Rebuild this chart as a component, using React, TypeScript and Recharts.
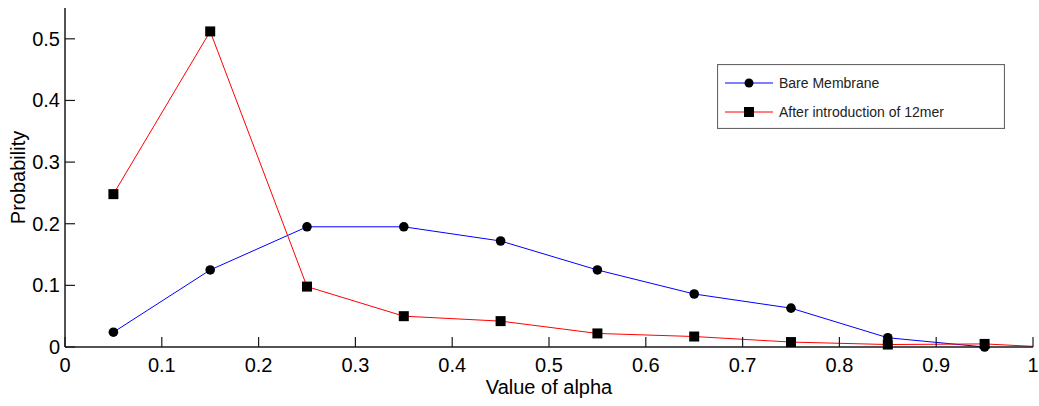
import React from "react";
import { Legend, Line, LineChart, XAxis, YAxis } from "recharts";

const alpha = [0.05, 0.15, 0.25, 0.35, 0.45, 0.55, 0.65, 0.75, 0.85, 0.95, 1.0];
const bare = [0.024, 0.125, 0.195, 0.195, 0.172, 0.125, 0.086, 0.063, 0.015, 0.0, null];
const after12mer = [0.248, 0.512, 0.098, 0.05, 0.042, 0.022, 0.017, 0.008, 0.004, 0.005, 0.001];
const xTicks = [0, 0.1, 0.2, 0.3, 0.4, 0.5, 0.6, 0.7, 0.8, 0.9, 1];
const yTicks = [0, 0.1, 0.2, 0.3, 0.4, 0.5];

const font = "'Liberation Sans', Arial, sans-serif";
const tickLen = 10;
const frame = "#1a1a1a";

const rows = alpha.map((a, i) => ({ alpha: a, bare: bare[i], after: after12mer[i] }));

function BottomTick({ x, y, payload }: any) {
  return (
    <g>
      <line x1={x} y1={y} x2={x} y2={y - tickLen} stroke={frame} strokeWidth={1.2} />
      <text x={x} y={y + 25} textAnchor="middle" fontSize={20} fontFamily={font} fill="#000">
        {String(payload.value)}
      </text>
    </g>
  );
}

function TopTick({ x, y }: any) {
  return <line x1={x} y1={y} x2={x} y2={y + tickLen} stroke={frame} strokeWidth={1.2} />;
}

function LeftTick({ x, y, payload }: any) {
  return (
    <g>
      <line x1={x} y1={y} x2={x + tickLen} y2={y} stroke={frame} strokeWidth={1.2} />
      <text x={x - 5} y={y + 7} textAnchor="end" fontSize={20} fontFamily={font} fill="#000">
        {String(payload.value)}
      </text>
    </g>
  );
}

function RightTick({ x, y }: any) {
  return <line x1={x} y1={y} x2={x - tickLen} y2={y} stroke={frame} strokeWidth={1.2} />;
}

function CircleDot({ cx, cy, value }: any) {
  if (value == null || cx == null || cy == null) return null;
  return <circle cx={cx} cy={cy} r={4.8} fill="#000" />;
}

function SquareDot({ cx, cy, index }: any) {
  if (cx == null || cy == null || alpha[index] >= 1) return null;
  return <rect x={cx - 5} y={cy - 5} width={10} height={10} fill="#000" />;
}

function LegendBox() {
  const items = [
    { label: "Bare Membrane", color: "#0000ff", square: false },
    { label: "After introduction of 12mer", color: "#ff0000", square: true },
  ];
  return (
    <svg width={288} height={65} style={{ display: "block" }}>
      <rect x={0.5} y={0.5} width={287} height={64} fill="#fff" stroke="#666" strokeWidth={1.2} />
      {items.map((it, i) => {
        const cy = 19 + i * 29;
        return (
          <g key={it.label}>
            <line x1={8} y1={cy} x2={56} y2={cy} stroke={it.color} strokeWidth={1} />
            {it.square ? (
              <rect x={27} y={cy - 5} width={10} height={10} fill="#000" />
            ) : (
              <circle cx={32} cy={cy} r={4.5} fill="#000" />
            )}
            <text x={62} y={cy + 5} fontSize={14} fontFamily={font} fill="#222">
              {it.label}
            </text>
          </g>
        );
      })}
    </svg>
  );
}

export default function App() {
  return (
    <div style={{ position: "absolute", left: 0, top: 0, background: "#fff" }}>
      <LineChart width={1039} height={406} data={rows} margin={{ top: 8, right: 6, bottom: 0, left: 0 }}>
        <XAxis
          xAxisId="b"
          type="number"
          dataKey="alpha"
          domain={[0, 1]}
          ticks={xTicks}
          height={59}
          tickSize={0}
          tickMargin={0}
          tickLine={false}
          axisLine={{ stroke: frame, strokeWidth: 1.5 }}
          tick={<BottomTick />}
          interval={0}
          label={({ viewBox }: any) => (
            <text
              x={viewBox.x + viewBox.width / 2}
              y={viewBox.y + 47}
              textAnchor="middle"
              fontSize={20}
              fontFamily={font}
              fill="#000"
            >
              Value of alpha
            </text>
          )}
        />
        <XAxis
          xAxisId="t"
          orientation="top"
          type="number"
          dataKey="alpha"
          domain={[0, 1]}
          ticks={xTicks}
          height={0}
          tickSize={0}
          tickMargin={0}
          tickLine={false}
          axisLine={{ stroke: frame, strokeWidth: 1.5 }}
          tick={<TopTick />}
          interval={0}
        />
        <YAxis
          yAxisId="l"
          type="number"
          domain={[0, 0.55]}
          ticks={yTicks}
          width={65}
          tickSize={0}
          tickMargin={0}
          tickLine={false}
          axisLine={{ stroke: frame, strokeWidth: 1.5 }}
          tick={<LeftTick />}
          interval={0}
          label={({ viewBox }: any) => {
            const cy = viewBox.y + viewBox.height / 2;
            return (
              <text
                x={25}
                y={cy}
                transform={`rotate(-90 25 ${cy})`}
                textAnchor="middle"
                fontSize={20}
                fontFamily={font}
                fill="#000"
              >
                Probability
              </text>
            );
          }}
        />
        <YAxis
          yAxisId="r"
          orientation="right"
          type="number"
          domain={[0, 0.55]}
          ticks={yTicks}
          width={0}
          tickSize={0}
          tickMargin={0}
          tickLine={false}
          axisLine={{ stroke: frame, strokeWidth: 1.5 }}
          tick={<RightTick />}
          interval={0}
        />
        <Legend
          layout="vertical"
          align="center"
          verticalAlign="middle"
          wrapperStyle={{ left: 717, top: 64, width: 288, height: 65 }}
          content={() => <LegendBox />}
        />
        <Line
          xAxisId="b"
          yAxisId="l"
          type="linear"
          dataKey="bare"
          stroke="#0000ff"
          strokeWidth={1}
          dot={<CircleDot />}
          activeDot={false}
          connectNulls={false}
          isAnimationActive={false}
        />
        <Line
          xAxisId="b"
          yAxisId="l"
          type="linear"
          dataKey="after"
          stroke="#ff0000"
          strokeWidth={1}
          dot={<SquareDot />}
          activeDot={false}
          isAnimationActive={false}
        />
      </LineChart>
    </div>
  );
}
